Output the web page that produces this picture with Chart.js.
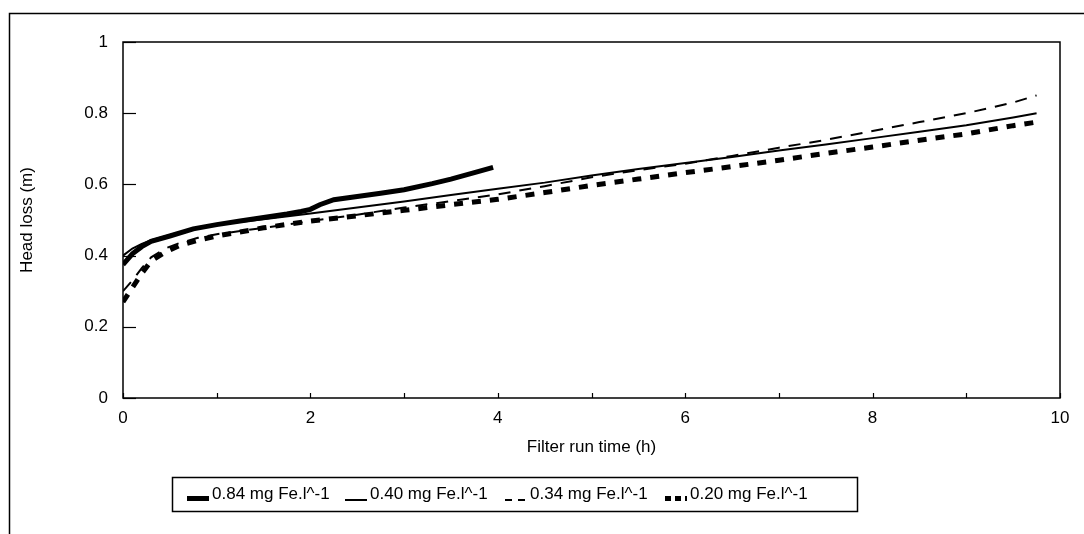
<!DOCTYPE html>
<html>
<head>
<meta charset="utf-8">
<script src="https://cdn.jsdelivr.net/npm/chart.js@4.4.1/dist/chart.umd.min.js"></script>
<style>
  html, body { margin: 0; padding: 0; background: #fff; }
  #wrap { width: 1084px; height: 534px; }
</style>
</head>
<body>
<div id="wrap"><canvas id="c" width="1084" height="534"></canvas></div>
<script>
// Head loss development over the filter run for four iron dosages
const seriesLabels = ['0.84 mg Fe.l^-1', '0.40 mg Fe.l^-1', '0.34 mg Fe.l^-1', '0.20 mg Fe.l^-1'];

const time084 = [0, 0.1, 0.2, 0.3, 0.5, 0.75, 1.0, 1.25, 1.5, 1.75, 1.9, 2.0, 2.1, 2.25, 2.5, 2.75, 3.0, 3.3, 3.5, 3.75, 3.95];
const loss084 = [0.375, 0.405, 0.425, 0.44, 0.455, 0.475, 0.487, 0.497, 0.507, 0.517, 0.524, 0.53, 0.543, 0.557, 0.566, 0.575, 0.585, 0.602, 0.615, 0.633, 0.648];

const time040 = [0, 0.1, 0.2, 0.3, 0.5, 0.75, 1, 1.5, 2, 2.5, 3, 3.5, 4, 4.5, 5, 5.5, 6, 6.5, 7, 7.5, 8, 8.5, 9, 9.5, 9.75];
const loss040 = [0.40, 0.42, 0.433, 0.443, 0.458, 0.476, 0.487, 0.502, 0.518, 0.535, 0.552, 0.57, 0.588, 0.605, 0.625, 0.643, 0.66, 0.677, 0.695, 0.712, 0.73, 0.748, 0.766, 0.788, 0.80];

const time034 = [0, 0.1, 0.2, 0.3, 0.45, 0.6, 0.8, 1, 1.5, 2, 2.5, 3, 3.5, 4, 4.5, 5, 5.5, 6, 6.5, 7, 7.5, 8, 8.5, 9, 9.5, 9.75];
const loss034 = [0.30, 0.33, 0.365, 0.395, 0.42, 0.435, 0.45, 0.46, 0.478, 0.497, 0.515, 0.535, 0.553, 0.572, 0.595, 0.62, 0.64, 0.658, 0.68, 0.703, 0.725, 0.75, 0.775, 0.80, 0.83, 0.85];

const time020 = [0, 0.1, 0.2, 0.3, 0.45, 0.6, 0.8, 1, 1.5, 2, 2.5, 3, 3.5, 4, 4.5, 5, 5.5, 6, 6.5, 7, 7.5, 8, 8.5, 9, 9.5, 9.75];
const loss020 = [0.27, 0.31, 0.35, 0.385, 0.41, 0.428, 0.443, 0.455, 0.478, 0.497, 0.512, 0.527, 0.543, 0.558, 0.577, 0.597, 0.615, 0.633, 0.65, 0.668, 0.687, 0.705, 0.724, 0.742, 0.765, 0.775];

const xTickLabelsEvery = 2;
const FONT = 'Arial, "Liberation Sans", sans-serif';
const FONT_SIZE = 17;

function pts(ts, vs) { return ts.map((t, i) => ({ x: t, y: vs[i] })); }

const datasets = [
  { label: seriesLabels[0], data: pts(time084, loss084), borderWidth: 5, borderDash: [] },
  { label: seriesLabels[1], data: pts(time040, loss040), borderWidth: 2, borderDash: [] },
  { label: seriesLabels[2], data: pts(time034, loss034), borderWidth: 2, borderDash: [12, 9] },
  { label: seriesLabels[3], data: pts(time020, loss020), borderWidth: 5, borderDash: [9, 9] }
].map(d => Object.assign(d, {
  borderColor: '#000', backgroundColor: '#000', showLine: true,
  pointRadius: 0, pointHoverRadius: 0, tension: 0, fill: false
}));

// legend layout: box and item positions, sample dash patterns
const legendBox = { left: 172, top: 477, right: 857, bottom: 511 };
const legendItemX = [187, 345, 505, 665];
const legendSampleDash = [[], [], [7, 6], [6, 4]];

// frame, plot box, inward tick marks and the boxed legend
const decorations = {
  id: 'decorations',
  beforeDraw(chart) {
    const ctx = chart.ctx;
    ctx.save();
    ctx.fillStyle = '#fff';
    ctx.fillRect(0, 0, chart.width, chart.height);
    ctx.restore();
  },
  afterDraw(chart) {
    const ctx = chart.ctx;
    const a = chart.chartArea;
    const xs = chart.scales.x, ys = chart.scales.y;
    ctx.save();
    ctx.strokeStyle = '#000';
    ctx.setLineDash([]);
    // outer frame
    ctx.lineWidth = 1.5;
    ctx.beginPath();
    ctx.moveTo(9.5, chart.height);
    ctx.lineTo(9.5, 13.5);
    ctx.lineTo(chart.width, 13.5);
    ctx.stroke();
    // plot box
    ctx.strokeRect(a.left, a.top, a.right - a.left, a.bottom - a.top);
    // y tick marks (inward)
    ctx.lineWidth = 1.2;
    ys.ticks.forEach(t => {
      const y = Math.round(ys.getPixelForValue(t.value)) + 0.5;
      ctx.beginPath();
      ctx.moveTo(a.left, y);
      ctx.lineTo(a.left + 13, y);
      ctx.stroke();
    });
    // x tick marks (inward)
    xs.ticks.forEach(t => {
      const x = Math.round(xs.getPixelForValue(t.value)) + 0.5;
      ctx.beginPath();
      ctx.moveTo(x, a.bottom);
      ctx.lineTo(x, a.bottom - 5);
      ctx.stroke();
    });
    // legend
    ctx.lineWidth = 1.5;
    ctx.strokeRect(legendBox.left + 0.5, legendBox.top + 0.5,
                   legendBox.right - legendBox.left, legendBox.bottom - legendBox.top);
    const midY = (legendBox.top + legendBox.bottom) / 2;
    ctx.font = FONT_SIZE + 'px ' + FONT;
    ctx.fillStyle = '#000';
    ctx.textBaseline = 'middle';
    ctx.textAlign = 'left';
    chart.data.datasets.forEach((ds, i) => {
      const x0 = legendItemX[i];
      const lw = ds.borderWidth;
      const ly = midY + 7 - lw / 2;
      ctx.lineWidth = lw;
      ctx.lineCap = 'butt';
      ctx.setLineDash(legendSampleDash[i]);
      ctx.beginPath();
      ctx.moveTo(x0, ly);
      ctx.lineTo(x0 + 22, ly);
      ctx.stroke();
      ctx.setLineDash([]);
      ctx.fillText(ds.label, x0 + 25, midY);
    });
    ctx.restore();
  }
};

new Chart(document.getElementById('c'), {
  type: 'scatter',
  data: { datasets },
  plugins: [decorations],
  options: {
    responsive: false,
    animation: false,
    events: [],
    layout: { padding: { top: 42, right: 24, left: 0, bottom: 66 } },
    plugins: {
      tooltip: { enabled: false },
      legend: { display: false }
    },
    scales: {
      x: {
        type: 'linear', min: 0, max: 10,
        grid: { display: false, drawTicks: false },
        border: { display: false },
        ticks: {
          stepSize: 1, autoSkip: false, maxRotation: 0, padding: 10,
          color: '#000', font: { family: FONT, size: FONT_SIZE },
          callback: v => (v % xTickLabelsEvery === 0 ? String(v) : '')
        },
        title: {
          display: true, text: 'Filter run time (h)', color: '#000',
          font: { family: FONT, size: FONT_SIZE }, padding: { top: 0, bottom: 10 }
        },
        afterFit(s) { s.height = 70; }
      },
      y: {
        type: 'linear', min: 0, max: 1,
        grid: { display: false, drawTicks: false },
        border: { display: false },
        ticks: {
          stepSize: 0.2, padding: 15,
          color: '#000', font: { family: FONT, size: FONT_SIZE },
          callback: v => String(Math.round(v * 10) / 10)
        },
        title: {
          display: true, text: 'Head loss (m)', color: '#000',
          font: { family: FONT, size: FONT_SIZE }, padding: { top: 17, bottom: 0 }
        },
        afterFit(s) { s.width = 123; }
      }
    }
  }
});
</script>
</body>
</html>
